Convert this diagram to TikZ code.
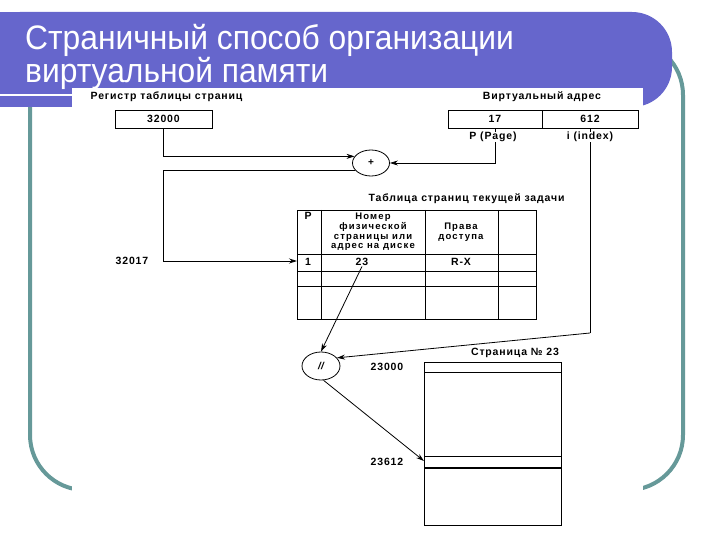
\documentclass[tikz,border=0pt]{standalone}
\usepackage{fontspec}
\setmainfont{Liberation Sans}
\newfontfamily\diagfont[LetterSpace=8]{Liberation Sans}
\newfontfamily\headfont[LetterSpace=12]{Liberation Sans}
\usetikzlibrary{arrows.meta,shapes.geometric}
\definecolor{banner}{RGB}{102,102,204}
\definecolor{frameteal}{RGB}{102,153,153}
\tikzset{
  lbl/.style={font=\diagfont\bfseries\fontsize{10.5}{10.5}\selectfont, inner sep=0.5pt},
  hdr/.style={font=\headfont\bfseries\fontsize{9.5}{9.7}\selectfont, inner sep=0.5pt, align=center},
  cellbox/.style={draw, line width=0.8pt, inner sep=0pt, font=\diagfont\bfseries\fontsize{10.5}{10.5}\selectfont},
  oper/.style={draw, ellipse, line width=0.8pt, inner sep=0pt, font=\bfseries\fontsize{10}{10}\selectfont},
  arr/.style={line width=0.8pt, -{Stealth[length=8pt,width=5pt]}},
  thin/.style={line width=0.8pt},
  title/.style={text=white, font=\fontsize{34}{40}\selectfont, inner sep=0pt, anchor=base west, xscale=0.935}
}
\begin{document}
\begin{tikzpicture}[x=1pt,y=-1pt]
\useasboundingbox (0,0) rectangle (720,540);
% teal frame
\draw[frameteal, line width=4pt, rounded corners=55pt] (30,40) rectangle (683,490);
% banner
\fill[banner, rounded corners=40pt] (-20,12) rectangle (672,107);
\fill[banner] (-20,12) rectangle (100,107);
\draw[white, line width=2pt] (0,95.5) -- (72,95.5);
% title
\node[title] (t1) at (25,50) {Страничный способ организации};
\node[title] (t2) at (25,83) {виртуальной памяти};
% white diagram area
\fill[white] (72,88) rectangle (643,545);

% labels
\node[lbl, anchor=west] (lreg) at (90,97) {Регистр таблицы страниц};
\node[lbl] (lva) at (542,97) {Виртуальный адрес};
\node[cellbox, minimum width=97pt, minimum height=18pt] (reg) at (163.5,119) {32000};
\node[cellbox, minimum width=94pt, minimum height=18pt] (va17) at (495,119) {17};
\node[cellbox, minimum width=96pt, minimum height=18pt] (va612) at (590,119) {612};

\node[oper, minimum width=37pt, minimum height=26pt] (plus) at (371,163) {+};
\node[oper, minimum width=38pt, minimum height=28pt] (dslash) at (321,366) {\itshape //};

% page table
\node[lbl, anchor=west] (ltab) at (368,199) {Таблица страниц текущей задачи};
\draw[thin] (297,210) rectangle (536,319);
\draw[thin] (321,210) -- (321,319) (425,210) -- (425,319) (498,210) -- (498,319);
\draw[thin] (297,254) -- (536,254) (297,271) -- (536,271) (297,286) -- (536,286);
\node[lbl] (hp) at (308,216) {P};
\node[hdr] (hnum) at (373,232) {Номер\\физической\\страницы или\\адрес на диске};
\node[hdr] (hacc) at (461,232) {Права\\доступа};
\node[lbl] (r1p) at (308,262) {1};
\node[lbl] (t23) at (362,262) {23};
\node[lbl] (rx) at (461,262) {R-X};
\coordinate (tabL1) at (297,261);
\node[lbl] (l32017) at (132,261) {32017};

% physical page
\node[lbl] (lpage) at (515,353) {Страница № 23};
\draw[thin] (424,362) rectangle (561,525);
\draw[thin] (424,372) -- (561,372);
\draw[thin] (424,456) -- (561,456);
\draw[line width=1.1pt] (424,468) -- (561,468);
\node[lbl] (l23000) at (387,367) {23000};
\node[lbl] (l23612) at (387,462) {23612};
\coordinate (p612) at (424,461);
\coordinate (bend) at (590,333);

% connectors
\draw[arr] (reg.south) |- (plus.158);
\draw[arr] (plus.205) -- (plus.205 -| reg.south) |- (tabL1);
\draw[arr] (va17.south) |- (plus.east);
\draw[thin] (va612.south) -- (bend);
\draw[arr] (bend) -- (dslash.27);
\draw[arr] (t23.south) -- (dslash.north);
\draw[arr] (dslash.-80) -- (p612);

\node[lbl, fill=white] (lpg) at (493,137) {P (Page)};
\node[lbl, fill=white] (lidx) at (590,137) {i (index)};
\end{tikzpicture}
\end{document}
